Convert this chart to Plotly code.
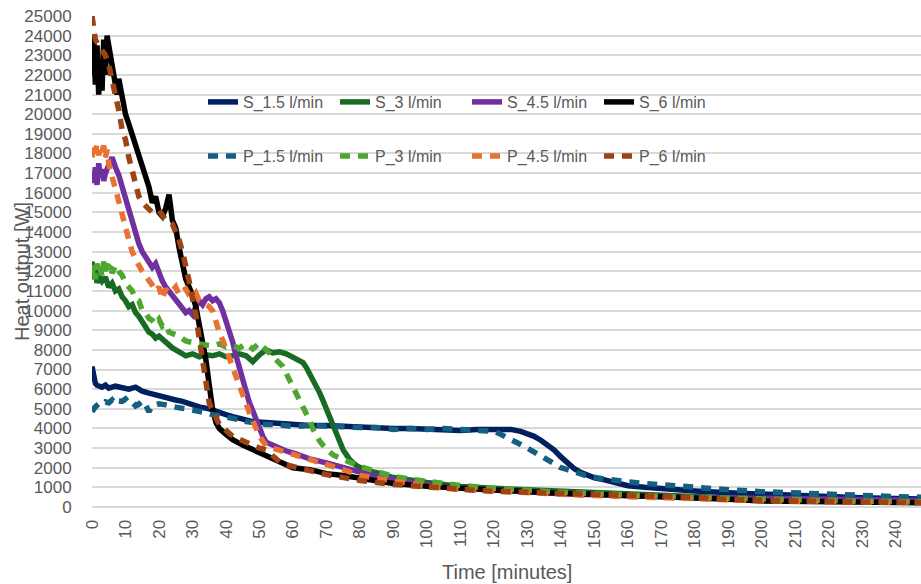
import plotly.graph_objects as go

# ---------------- data ----------------
x_ticks = list(range(0, 250, 10))
x_tick_labels = [str(v) for v in x_ticks]
y_ticks = list(range(0, 26000, 1000))
y_tick_labels = [str(v) for v in y_ticks]

t_s15 = [0, 0.3, 0.6, 1, 1.5, 2, 3, 4, 5, 7, 9, 11, 13, 15, 17, 19, 22, 25, 27, 30, 32, 35, 37, 40, 42, 45, 48, 52, 56, 60,
         65, 70, 75, 80, 85, 90, 95, 100, 105, 110, 115, 118, 120, 122, 125, 128, 130, 132, 134, 136, 138, 140, 142, 144,
         146, 148, 150, 153, 157, 160, 165, 170, 175, 180, 190, 200, 210, 220, 230, 240, 248]
w_s15 = [7150, 6800, 6500, 6300, 6200, 6150, 6100, 6200, 6050, 6150, 6050, 6000, 6100, 5900, 5800, 5700, 5550, 5450, 5380,
         5200, 5100, 5000, 4850, 4700, 4600, 4450, 4350, 4300, 4250, 4200, 4150, 4150, 4100, 4100, 4050, 4000, 4000, 3950,
         3950, 3900, 3950, 3950, 4000, 3950, 3950, 3850, 3750, 3600, 3400, 3150, 2900, 2550, 2250, 1950, 1750, 1600, 1480,
         1380, 1200, 1080, 1000, 920, 880, 820, 720, 640, 580, 520, 470, 430, 400]

t_s3 = [0, 0.5, 1, 1.5, 2, 3, 4, 5, 6, 7, 8, 9, 10, 11, 12, 13, 14, 15, 16, 17, 18, 19, 20, 22, 24, 26, 28, 30, 32, 34, 36,
        38, 40, 42, 44, 46, 48, 50, 52, 54, 56, 58, 60, 62, 63, 64, 65, 66, 67, 68, 69, 70, 71, 72, 73, 74, 75, 77, 79, 82,
        85, 90, 95, 100, 105, 110, 120, 130, 140, 150, 160, 170, 180, 190, 200, 210, 220, 230, 240, 248]
w_s3 = [12500, 11600, 12300, 11400, 11800, 11500, 11700, 11200, 11400, 11000, 11100, 10700, 10500, 10200, 10300, 9900,
        9700, 9400, 9200, 8900, 8800, 8600, 8700, 8350, 8100, 7900, 7700, 7800, 7650, 7750, 7700, 7800, 7650, 7700, 7800,
        7700, 7400, 7750, 8000, 7850, 7900, 7800, 7650, 7500, 7350, 7100, 6800, 6500, 6150, 5800, 5400, 5000, 4600, 4200,
        3700, 3300, 2900, 2400, 2100, 1850, 1750, 1500, 1350, 1250, 1150, 1050, 950, 880, 800, 720, 650, 560, 500, 450,
        400, 370, 350, 320, 300, 280]

t_s45 = [0, 0.5, 1, 1.5, 2, 2.5, 3, 3.5, 4, 5, 6, 7, 8, 9, 10, 11, 12, 13, 14, 15, 16, 17, 18, 19, 20, 21, 22, 23, 24, 25,
         26, 27, 28, 29, 30, 31, 32, 33, 34, 35, 36, 37, 38, 39, 40, 41, 42, 43, 44, 45, 46, 47, 48, 49, 50, 51, 52, 55,
         58, 60, 65, 70, 75, 80, 85, 90, 95, 100, 110, 120, 130, 140, 150, 160, 170, 180, 190, 200, 210, 220, 230, 240, 248]
w_s45 = [17000, 16500, 17300, 16400, 17500, 16800, 17200, 16600, 17000, 17400, 17800, 17300, 16900, 16300, 15700, 15300,
         14600, 14000, 13400, 13000, 12700, 12500, 12200, 12400, 11900, 11500, 11200, 11000, 10800, 10500, 10300, 10100,
         9900, 10000, 9800, 10200, 10500, 10300, 10600, 10700, 10500, 10600, 10400, 10000, 9500, 8800, 8400, 7700, 7100,
         6400, 5800, 5300, 4900, 4450, 4000, 3600, 3300, 3050, 2850, 2750, 2450, 2250, 2000, 1750, 1550, 1400, 1250, 1150,
         950, 850, 750, 680, 620, 560, 520, 480, 460, 450, 430, 400, 380, 360, 330]

t_s6 = [0, 0.5, 1, 1.5, 2, 2.5, 3, 3.5, 4, 4.5, 5, 6, 7, 7.5, 8, 9, 10, 11, 12, 13, 14, 15, 16, 17, 18, 19, 20, 21, 22, 23,
        24, 25, 26, 27, 28, 29, 30, 31, 32, 33, 34, 35, 36, 37, 38, 40, 42, 45, 48, 52, 56, 60, 65, 70, 75, 80, 90, 100,
        110, 120, 130, 140, 150, 160, 170, 180, 190, 200, 210, 220, 230, 240, 248]
w_s6 = [22000, 24000, 21500, 23500, 21000, 22500, 21200, 23800, 22000, 24000, 23500, 22500, 21500, 21000, 21800, 20800,
        20000, 19500, 19000, 18500, 17800, 17500, 16800, 16300, 15500, 15800, 15000, 14800, 15200, 15900, 14600, 14200,
        13200, 12500, 11600, 11200, 10800, 10200, 9300, 8300, 7500, 6200, 5000, 4300, 4000, 3700, 3430, 3150, 2930, 2600,
        2300, 2000, 1900, 1700, 1600, 1450, 1200, 1050, 950, 850, 780, 700, 650, 600, 550, 500, 400, 300, 280, 250, 240,
        230, 220]

t_p15 = [0, 0.5, 1, 2, 3, 4, 5, 6, 7, 8, 9, 10, 11, 12, 13, 14, 15, 16, 17, 18, 20, 22, 24, 26, 28, 30, 32, 34, 36, 38, 40,
         42, 44, 46, 48, 50, 52, 55, 58, 60, 65, 70, 75, 80, 85, 90, 95, 100, 105, 110, 115, 118, 120, 122, 124, 126, 128,
         130, 132, 134, 136, 138, 140, 142, 145, 148, 152, 156, 160, 165, 170, 175, 180, 190, 200, 210, 220, 230, 240, 248]
w_p15 = [4850, 5050, 5100, 5250, 5200, 5350, 5300, 5450, 5250, 5400, 5380, 5500, 5300, 5350, 5150, 5250, 5050, 5200, 4850,
         5150, 5250, 5200, 5100, 5050, 5000, 4950, 4850, 4800, 4700, 4650, 4550, 4500, 4450, 4350, 4300, 4250, 4200, 4200,
         4150, 4100, 4150, 4100, 4100, 4050, 4050, 3950, 4000, 3950, 4000, 3950, 3950, 3900, 3850, 3700, 3550, 3350, 3180,
         3000, 2800, 2600, 2350, 2150, 2000, 1900, 1720, 1570, 1450, 1350, 1280, 1200, 1130, 1050, 980, 880, 780, 700, 630,
         580, 530, 500]

t_p3 = [0, 0.5, 1, 1.5, 2, 2.5, 3, 3.5, 4, 4.5, 5, 5.5, 6, 7, 8, 9, 10, 11, 12, 13, 14, 15, 16, 17, 18, 19, 20, 21, 22, 23,
        24, 26, 28, 30, 32, 34, 36, 38, 40, 42, 44, 46, 48, 50, 52, 54, 56, 57, 58, 59, 60, 61, 62, 63, 64, 65, 66, 67, 68,
        70, 72, 75, 78, 80, 85, 90, 95, 100, 110, 120, 130, 140, 150, 160, 170, 180, 190, 200, 210, 220, 230, 240, 248]
w_p3 = [11800, 12300, 11600, 12400, 11900, 12200, 11700, 12500, 12000, 12600, 12100, 12400, 11900, 12300, 12000, 11800,
        11400, 11200, 11000, 10600, 10500, 10000, 9900, 9600, 9500, 9300, 9550, 9200, 9300, 8900, 8850, 8700, 8450, 8350,
        8300, 8250, 8200, 8300, 8150, 8200, 8100, 8300, 8050, 8350, 8000, 7700, 7400, 7150, 6800, 6450, 6130, 5800, 5470,
        5200, 4800, 4400, 3950, 3650, 3350, 2930, 2650, 2420, 2200, 2060, 1800, 1550, 1420, 1300, 1100, 950, 830, 750,
        680, 600, 540, 480, 450, 400, 370, 330, 300, 280, 260]

t_p45 = [0, 0.5, 1, 1.5, 2, 2.5, 3, 3.5, 4, 4.5, 5, 5.5, 6, 7, 8, 9, 10, 11, 12, 13, 14, 15, 16, 17, 18, 19, 20, 21, 22, 23,
         24, 25, 26, 27, 28, 29, 30, 31, 32, 33, 34, 35, 36, 37, 38, 39, 40, 41, 42, 43, 44, 45, 46, 47, 48, 49, 50, 52,
         54, 56, 58, 60, 62, 65, 70, 75, 80, 85, 90, 95, 100, 110, 120, 130, 140, 150, 160, 170, 180, 190, 200, 210, 220,
         230, 240, 248]
w_p45 = [17800, 18400, 18000, 18500, 17900, 18300, 18100, 18400, 17800, 18200, 17500, 17000, 16800, 16200, 15500, 15000,
         14300, 13600, 13000, 12600, 12300, 12000, 11800, 11600, 11300, 11000, 11200, 10600, 11100, 10900, 11000, 11200,
         10800, 11000, 11100, 10800, 10700, 10900, 10500, 10400, 10300, 10200, 10000, 9400, 8900, 8500, 8100, 7600, 7100,
         6600, 6100, 5600, 5200, 4800, 4400, 3950, 3600, 3100, 3000, 2850, 2750, 2700, 2600, 2450, 2150, 1900, 1600, 1450,
         1300, 1150, 1050, 900, 800, 720, 650, 580, 520, 460, 410, 360, 320, 300, 280, 260, 240, 230]

t_p6 = [0, 0.5, 1, 2, 3, 4, 5, 6, 7, 8, 9, 10, 11, 12, 13, 14, 15, 16, 18, 20, 22, 24, 25, 26, 27, 28, 29, 30, 31, 32, 33,
        34, 35, 36, 37, 38, 40, 42, 44, 46, 48, 50, 52, 54, 56, 58, 60, 65, 70, 75, 80, 90, 100, 110, 120, 130, 140, 150,
        160, 170, 180, 190, 200, 210, 220, 230, 240, 248]
w_p6 = [25000, 24200, 23800, 23500, 23200, 23000, 22500, 21800, 21000, 20200, 19200, 18700, 17800, 17200, 16500, 15800,
        15500, 15300, 15000, 15100, 14600, 14400, 14000, 13600, 13000, 12300, 11500, 10600, 9800, 8600, 7600, 6500, 5300,
        4900, 4500, 4200, 3900, 3600, 3450, 3280, 3150, 3000, 2900, 2600, 2300, 2150, 2050, 1850, 1650, 1500, 1350, 1150,
        1000, 900, 800, 750, 700, 650, 600, 550, 480, 380, 330, 300, 280, 260, 240, 230]

series = [
    ("S_1.5 l/min", t_s15, w_s15, "#002060", "solid", "legend"),
    ("S_3 l/min", t_s3, w_s3, "#196B24", "solid", "legend"),
    ("S_4.5 l/min", t_s45, w_s45, "#7030A0", "solid", "legend"),
    ("S_6 l/min", t_s6, w_s6, "#000000", "solid", "legend"),
    ("P_1.5 l/min", t_p15, w_p15, "#156082", "10px,8px", "legend2"),
    ("P_3 l/min", t_p3, w_p3, "#4EA72E", "10px,8px", "legend2"),
    ("P_4.5 l/min", t_p45, w_p45, "#E97132", "10px,8px", "legend2"),
    ("P_6 l/min", t_p6, w_p6, "#9C4414", "10px,8px", "legend2"),
]

fig = go.Figure()
for name, t, w, color, dash, lg in series:
    fig.add_trace(go.Scatter(x=t, y=w, mode="lines", name=name, legend=lg,
                             line=dict(color=color, width=5.5, dash=dash)))

GRAY = "#595959"
leg_common = dict(orientation="h", xanchor="left", yanchor="middle", entrywidth=87,
                  entrywidthmode="pixels", bgcolor="rgba(0,0,0,0)", borderwidth=0,
                  font=dict(size=16, color=GRAY, family="Liberation Sans"), tracegroupgap=0)

fig.update_layout(
    width=921, height=584,
    margin=dict(l=92, r=0, t=16, b=77),
    paper_bgcolor="white", plot_bgcolor="white",
    font=dict(family="Liberation Sans", color=GRAY),
    xaxis=dict(range=[0, 247.5], tickmode="array", tickvals=x_ticks, ticktext=x_tick_labels,
               tickangle=-90, showgrid=False, zeroline=False, showline=False,
               ticks="outside", ticklen=5, tickcolor="rgba(0,0,0,0)",
               tickfont=dict(size=17, color=GRAY)),
    yaxis=dict(range=[0, 25000], tickmode="array", tickvals=y_ticks, ticktext=y_tick_labels,
               showgrid=True, gridcolor="#D9D9D9", gridwidth=2,
               zeroline=True, zerolinecolor="#D9D9D9", zerolinewidth=2,
               showline=False, ticks="outside", ticklen=16, tickcolor="rgba(0,0,0,0)",
               tickfont=dict(size=17, color=GRAY)),
    legend=dict(x=(203 - 92) / 829, y=(507 - 102) / 491, **leg_common),
    legend2=dict(x=(203 - 92) / 829, y=(507 - 156) / 491, **leg_common),
    annotations=[
        dict(text="Time [minutes]", xref="paper", yref="paper", x=0.5, y=(507 - 572) / 491,
             xanchor="center", yanchor="middle", showarrow=False,
             font=dict(size=20, color=GRAY, family="Liberation Sans")),
        dict(text="Heat output [W]", xref="paper", yref="paper", x=(22 - 92) / 829, y=(507 - 272) / 491,
             xanchor="center", yanchor="middle", showarrow=False, textangle=-90,
             font=dict(size=20, color=GRAY, family="Liberation Sans")),
    ],
)

fig.write_html("out.html")
